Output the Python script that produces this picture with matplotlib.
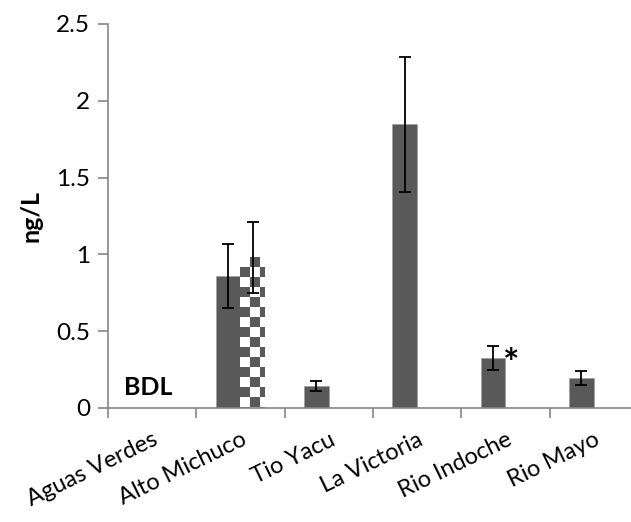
import numpy as np
import matplotlib
matplotlib.use('agg')
from matplotlib import pyplot as plt

# site names along the x axis
sites = ["Aguas Verdes", "Alto Michuco", "Tio Yacu", "La Victoria",
         "Rio Indoche", "Rio Mayo"]

# first sampling (solid bars), ng/L
conc_1 = [np.nan, 0.86, 0.143, 1.847, 0.326, 0.195]
err_1 = [np.nan, 0.21, 0.035, 0.44, 0.08, 0.048]

# second sampling (checkered bars), only Alto Michuco
conc_2 = [np.nan, 0.98, np.nan, np.nan, np.nan, np.nan]
err_2 = [np.nan, 0.23, np.nan, np.nan, np.nan, np.nan]

y_ticks = [0, 0.5, 1, 1.5, 2, 2.5]
y_tick_labels = ["0", "0.5", "1", "1.5", "2", "2.5"]

BAR_COLOR = "#595959"
AXIS_COLOR = "#868686"
CELL_PX = 10  # size of one checker square in pixels

plt.rcParams['font.family'] = ['Lato', 'DejaVu Sans']

fig = plt.figure(figsize=(6.31, 5.22), dpi=100)
ax = fig.add_axes([108 / 631, 114 / 522, 530 / 631, 384 / 522])

x = np.arange(len(sites))
width = 0.283

ax.set_xlim(-0.5, len(sites) - 0.5)
ax.set_ylim(0, 2.5)

bars_1 = ax.bar(x - width / 2, conc_1, width, color=BAR_COLOR,
                edgecolor="#9a9a9a", linewidth=0.4, zorder=2)
bars_2 = ax.bar(x + width / 2, conc_2, width, color="white",
                edgecolor="none", linewidth=0, zorder=2)

# checkerboard fill for the second series, clipped to each bar
for bar in bars_2:
    h = bar.get_height()
    if not np.isfinite(h) or h <= 0:
        continue
    x0, x1 = bar.get_x(), bar.get_x() + bar.get_width()
    p0 = ax.transData.transform((x0, 0))
    p1 = ax.transData.transform((x1, h))
    w_px = int(round(p1[0] - p0[0]))
    h_px = int(round(p1[1] - p0[1]))
    rows = np.arange(h_px)[:, None] // CELL_PX
    cols = np.arange(w_px)[None, :] // CELL_PX
    board = ((rows + cols) % 2).astype(float)
    im = ax.imshow(board, cmap=matplotlib.colors.ListedColormap(["white", BAR_COLOR]),
                   extent=(x0, x1, 0, h), origin="upper", aspect="auto",
                   interpolation="nearest", zorder=2.5)
    im.set_clip_path(bar)

ax.errorbar(x - width / 2, conc_1, yerr=err_1, fmt="none", ecolor="black",
            elinewidth=1.3, capsize=4.3, capthick=1.3, zorder=3)
ax.errorbar(x + width / 2, conc_2, yerr=err_2, fmt="none", ecolor="black",
            elinewidth=1.3, capsize=4.3, capthick=1.3, zorder=3)

# below detection limit note and significance mark
ax.text(x[0] - 0.04, 0.135, "BDL", ha="center", va="center",
        fontsize=18, fontweight="bold")
ax.text(x[4] + 0.07, conc_1[4] + err_1[4] - 0.125, "*", ha="center",
        va="center", fontsize=28, fontweight="bold")

ax.set_yticks(y_ticks)
ax.set_yticklabels(y_tick_labels)
ax.tick_params(axis="y", length=7, color=AXIS_COLOR, width=1.2,
               labelsize=17.5, pad=6)

# tick marks sit between categories, names sit under the bars
ax.set_xticks(np.arange(len(sites) + 1) - 0.5)
ax.set_xticklabels([])
ax.tick_params(axis="x", which="major", length=7, color=AXIS_COLOR,
               width=1.2)
ax.set_xticks(x, minor=True)
ax.set_xticklabels(sites, minor=True)
ax.tick_params(axis="x", which="minor", length=0, pad=15, labelsize=17)
for label in ax.get_xticklabels(minor=True):
    label.set_rotation(26)
    label.set_rotation_mode("anchor")
    label.set_horizontalalignment("right")
    label.set_verticalalignment("top")

ax.set_ylabel("ng/L", fontsize=18, fontweight="bold", labelpad=10)

for side in ("top", "right"):
    ax.spines[side].set_visible(False)
for side in ("left", "bottom"):
    ax.spines[side].set_color(AXIS_COLOR)
    ax.spines[side].set_linewidth(1.2)

fig.savefig("out.png", dpi=100)
plt.close(fig)
